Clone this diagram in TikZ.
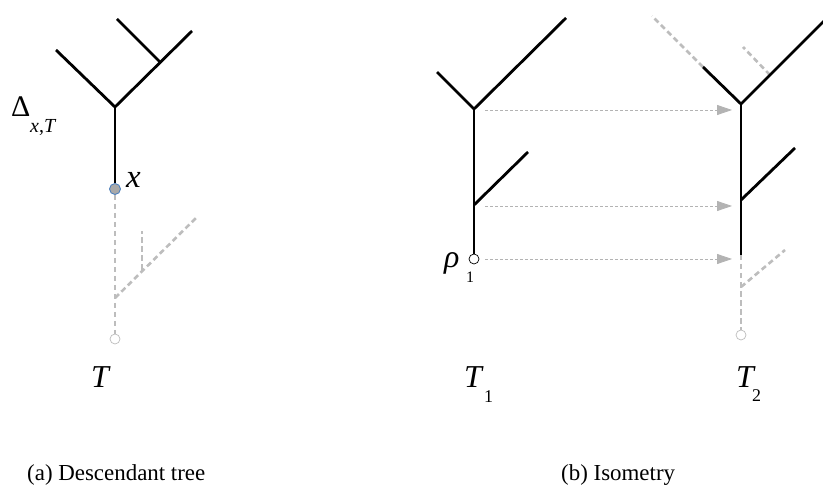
\documentclass[tikz,border=0pt]{standalone}
\usepackage{fontspec}
\setmainfont{Liberation Serif}
\usetikzlibrary{arrows.meta}
\definecolor{dgray}{HTML}{BDBDBD}
\definecolor{agray}{HTML}{B3B3B3}
\definecolor{xfill}{HTML}{A9A9A9}
\definecolor{xborder}{HTML}{4F81BD}
\begin{document}
\begin{tikzpicture}[x=1bp,y=-1bp,
  solidedge/.style={line width=2.8bp,black},
  dashedge/.style={line width=2.6bp,dgray,dash pattern=on 5.5bp off 3.5bp},
  maparrow/.style={line width=0.8bp,agray,dash pattern=on 3bp off 2bp,
     -{Triangle[length=15bp,width=10bp]}},
  lbl/.style={inner sep=0pt,anchor=base west},
  big/.style={font=\fontsize{32}{32}\selectfont},
  subtext/.style={font=\fontsize{18}{18}\selectfont},
  captext/.style={font=\fontsize{23}{23}\selectfont},
  hollow/.style={circle,draw=#1,fill=white,line width=0.7bp,inner sep=0pt,minimum size=10bp},
  xdot/.style={circle,draw=xborder,fill=xfill,line width=0.9bp,inner sep=0pt,minimum size=11bp}
]
\useasboundingbox (0,0) rectangle (823,489);

% ---------- (a) Descendant tree ----------
\coordinate (aB) at (115,107);
\coordinate (aL) at (56,50);
\coordinate (aR) at (192,31);
\coordinate (aS) at (160,62);
\coordinate (aSL) at (117,19);
\coordinate (aD) at (115,298);
\coordinate (aDR) at (196,218);
\coordinate (aDS) at (142,270);
\coordinate (aDSU) at (142,231);
\node[xdot] (ax) at (115,189) {};
\node[hollow=dgray] (aroot) at (115,339) {};

\draw[dashedge] (ax) -- (aroot);
\draw[dashedge] (aD) -- (aDR);
\draw[dashedge] (aDS) -- (aDSU);
\draw[solidedge] (aL) -- (aB) -- (aR);
\draw[solidedge] (aS) -- (aSL);
\draw[solidedge] (aB) -- (ax.north);

\node[lbl,font=\fontsize{30}{30}\selectfont] (delta) at (11,117) {Δ};
\node[lbl,font=\fontsize{20}{20}\selectfont] (deltasub) at (30,133) {\textit{x},\textit{T}};
\node[lbl,font=\fontsize{33}{33}\selectfont] (xlbl) at (126,188) {\textit{x}};
\node[lbl,big] (Ta) at (91,387) {\textit{T}};
\node[lbl,captext] (capa) at (27,480) {(a) Descendant tree};

% ---------- (b) T1 ----------
\coordinate (pB) at (474,109);
\coordinate (pL) at (437,72);
\coordinate (pR) at (566,18);
\coordinate (pM) at (474,205);
\coordinate (pMR) at (528,152);
\node[hollow=black] (rho) at (474,259) {};
\draw[solidedge] (pL) -- (pB) -- (pR);
\draw[solidedge] (pM) -- (pMR);
\draw[solidedge] (pB) -- (rho.north);

\node[lbl,big] (rholbl) at (444,268) {\textit{ρ}};
\node[lbl,font=\fontsize{16}{16}\selectfont] (rhosub) at (466,283) {1};
\node[lbl,big] (T1) at (464,387) {\textit{T}};
\node[lbl,subtext] (T1sub) at (484,402) {1};

% ---------- (b) T2 ----------
\coordinate (qB) at (741,104);
\coordinate (qL) at (703,67);
\coordinate (qLd) at (652,16);
\coordinate (qR) at (824,21);
\coordinate (qS) at (770,75);
\coordinate (qSd) at (743,47);
\coordinate (qM) at (741,200);
\coordinate (qMR) at (795,148);
\coordinate (qE) at (741,255);
\coordinate (qD) at (741,287);
\coordinate (qDR) at (785,250);
\node[hollow=dgray] (q0) at (741,335) {};
\draw[dashedge] (qL) -- (qLd);
\draw[dashedge] (qS) -- (qSd);
\draw[dashedge] (qE) -- (q0);
\draw[dashedge] (qD) -- (qDR);
\draw[solidedge] (qL) -- (qB) -- (qR);
\draw[solidedge] (qM) -- (qMR);
\draw[solidedge] (qB) -- (qE);

\node[lbl,big] (T2) at (736,387) {\textit{T}};
\node[lbl,subtext] (T2sub) at (752,401) {2};

% ---------- isometry arrows ----------
\coordinate (m1s) at (485,110);
\coordinate (m1e) at (732,110);
\coordinate (m2s) at (485,206);
\coordinate (m2e) at (732,206);
\coordinate (m3s) at (485,259);
\coordinate (m3e) at (732,259);
\draw[maparrow] (m1s) -- (m1e);
\draw[maparrow] (m2s) -- (m2e);
\draw[maparrow] (m3s) -- (m3e);

\node[lbl,captext] (capb) at (561,480) {(b) Isometry};
\end{tikzpicture}
\end{document}
